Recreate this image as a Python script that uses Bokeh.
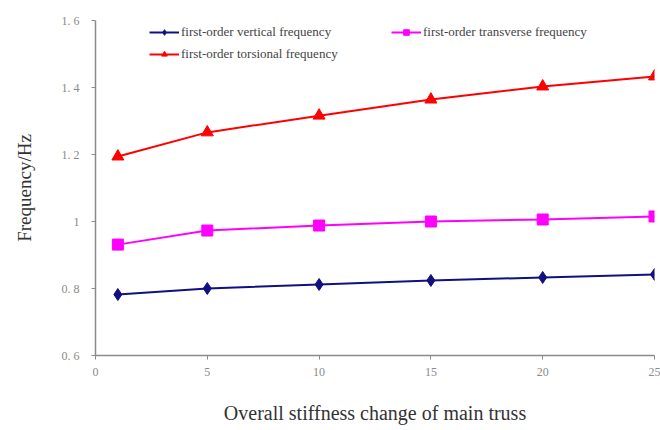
from bokeh.plotting import figure
from bokeh.models import Legend, LegendItem, FixedTicker, Range1d
from bokeh.embed import file_html
from bokeh.resources import INLINE

# Stiffness change of the main truss (x) and first-order natural frequencies (Hz)
stiffness_change = [1, 5, 10, 15, 20, 25]
vertical_freq = [0.782, 0.800, 0.812, 0.824, 0.833, 0.842]
transverse_freq = [0.931, 0.973, 0.988, 1.000, 1.006, 1.015]
torsional_freq = [1.194, 1.266, 1.316, 1.364, 1.403, 1.433]

x_ticks = [0, 5, 10, 15, 20, 25]
y_ticks = [0.6, 0.8, 1.0, 1.2, 1.4, 1.6]
y_tick_labels = {0.6: "0.\u00a06", 0.8: "0.\u00a08", 1.0: "1",
                 1.2: "1.\u00a02", 1.4: "1.\u00a04", 1.6: "1.\u00a06"}

SERIF = "Liberation Serif"
GRAY = "#8a8a8a"

p = figure(width=660, height=430, output_backend="svg", toolbar_location=None,
           x_range=Range1d(0, 25), y_range=Range1d(0.6, 1.6),
           min_border_left=95, min_border_right=6, min_border_top=20, min_border_bottom=75)

p.outline_line_color = None
p.xgrid.visible = False
p.ygrid.visible = False

for ax in (p.xaxis[0], p.yaxis[0]):
    ax.axis_line_color = GRAY
    ax.axis_line_width = 1.5
    ax.major_tick_line_color = GRAY
    ax.major_tick_in = 0
    ax.major_tick_out = 4
    ax.minor_tick_line_color = None
    ax.major_label_text_color = GRAY
    ax.major_label_text_font = SERIF
    ax.major_label_text_font_size = "12px"
    ax.axis_label_text_font = SERIF
    ax.axis_label_text_font_style = "normal"
    ax.axis_label_text_color = "#333333"

p.xaxis.ticker = FixedTicker(ticks=x_ticks)
p.yaxis.ticker = FixedTicker(ticks=y_ticks)
p.yaxis.major_label_overrides = y_tick_labels
p.xaxis.major_label_standoff = 8
p.yaxis.major_label_standoff = 12

p.xaxis.axis_label = "Overall stiffness change of main truss"
p.xaxis.axis_label_text_font_size = "20px"
p.xaxis.axis_label_standoff = 23
p.yaxis.axis_label = "Frequency/Hz"
p.yaxis.axis_label_text_font_size = "19px"
p.yaxis.axis_label_standoff = 24

l1 = p.line(stiffness_change, vertical_freq, line_color="#101080", line_width=2)
m1 = p.scatter(stiffness_change, vertical_freq, marker="diamond", size=12,
               fill_color="#101080", line_color="#101080")
l2 = p.line(stiffness_change, transverse_freq, line_color="#ff00ff", line_width=2)
m2 = p.scatter(stiffness_change, transverse_freq, marker="square", size=11,
               fill_color="#ff00ff", line_color="#ff00ff")
l3 = p.line(stiffness_change, torsional_freq, line_color="#ff0000", line_width=2)
m3 = p.scatter(stiffness_change, torsional_freq, marker="triangle", size=12,
               fill_color="#ff0000", line_color="#ff0000")

# two-column legend filled column by column
legend = Legend(items=[
    LegendItem(label="first-order vertical frequency", renderers=[l1, m1]),
    LegendItem(label="first-order torsional frequency", renderers=[l3, m3]),
    LegendItem(label="first-order transverse frequency", renderers=[l2, m2]),
], ncols=2, location=(54, 293))
legend.background_fill_alpha = 0
legend.border_line_color = None
legend.label_text_font = SERIF
legend.label_text_font_size = "13px"
legend.label_text_color = "#444444"
legend.glyph_width = 30
legend.glyph_height = 14
legend.label_standoff = 2
legend.label_width = 204
legend.spacing = 6
legend.padding = 4
p.add_layout(legend, "center")

open("out.html", "w").write(file_html(p, INLINE))
